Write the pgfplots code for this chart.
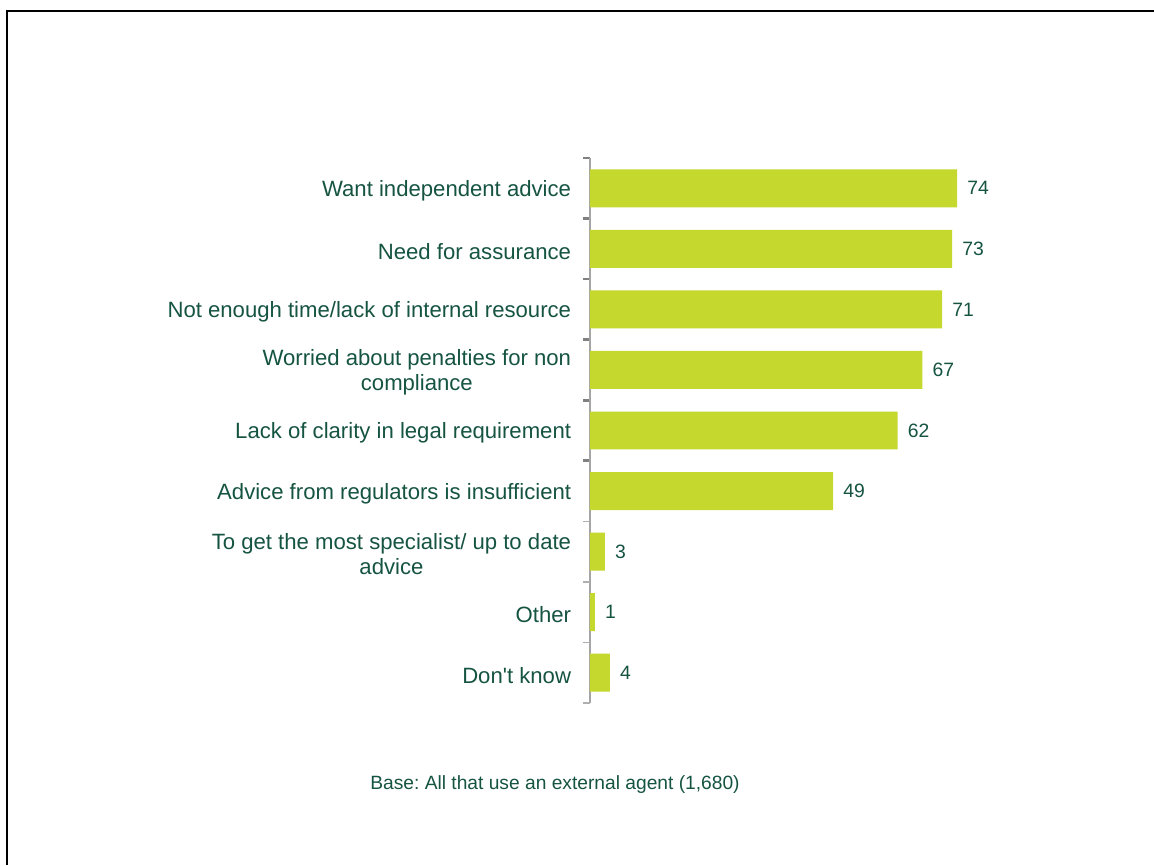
\documentclass[border=0pt]{standalone}
\usepackage{fontspec}
\setmainfont{Liberation Sans}
\usepackage{pgfplots}
\pgfplotsset{compat=1.18}
\frenchspacing
\definecolor{barg}{RGB}{196,216,46}
\definecolor{txtg}{RGB}{22,84,66}
\definecolor{tickdark}{RGB}{128,128,128}
\definecolor{ticklight}{RGB}{175,175,175}
\definecolor{axisgray}{RGB}{165,165,165}
\begin{document}
\begin{tikzpicture}
\path[use as bounding box] (0,0) rectangle (865.5pt,648.75pt);
\fill[white] (0,0) rectangle (865.5pt,648.75pt);
\draw[black, line width=1.5pt] (5.25pt,0) -- (5.25pt,640.5pt) -- (865.5pt,640.5pt);
\begin{axis}[
 at={(442.5pt,121.5pt)}, anchor=south west,
 scale only axis, width=297.6pt, height=408.75pt,
 xmin=0, xmax=80, ymin=-0.5, ymax=8.5, y dir=reverse,
 xbar, bar width=0.627,
 hide x axis, axis y line*=left,
 y axis line style={draw=axisgray, line width=1.2pt},
 ytick={0,...,8},
 yticklabels={Want independent advice, Need for assurance, Not enough time/lack of internal resource, Worried about penalties for non\\compliance, Lack of clarity in legal requirement, Advice from regulators is insufficient, To get the most specialist/ up to date\\advice, Other, Don\textquotesingle t know},
 major tick length=0pt,
 minor ytick={-0.5,0.5,...,4.5},
 minor tick length=5pt,
 minor tick style={draw=tickdark, line width=2pt},
 extra y ticks={5.5,6.5,7.5,8.5},
 extra y tick labels={},
 extra y tick style={major tick length=5pt, major tick style={draw=ticklight, line width=1pt}},
 tick align=outside,
 /pgf/number format/assume math mode=true,
 yticklabel style={font=\fontsize{16.6}{18.75}\selectfont, text=txtg, align=center, inner sep=0pt, xshift=-14pt, yshift=-2pt},
 nodes near coords,
 nodes near coords style={font=\fontsize{14.5}{16}\selectfont, text=txtg, anchor=west, inner sep=0pt, xshift=7.5pt},
 clip=false,
]
\addplot[fill=barg, draw=none] coordinates {(74,0) (73,1) (71,2) (67,3) (62,4) (49,5) (3,6) (1,7) (4,8)};
\end{axis}
\node[font=\fontsize{14.4}{16}\selectfont, text=txtg] at (416.25pt,60pt) {Base: All that use an external agent (1,680)};
\end{tikzpicture}
\end{document}
